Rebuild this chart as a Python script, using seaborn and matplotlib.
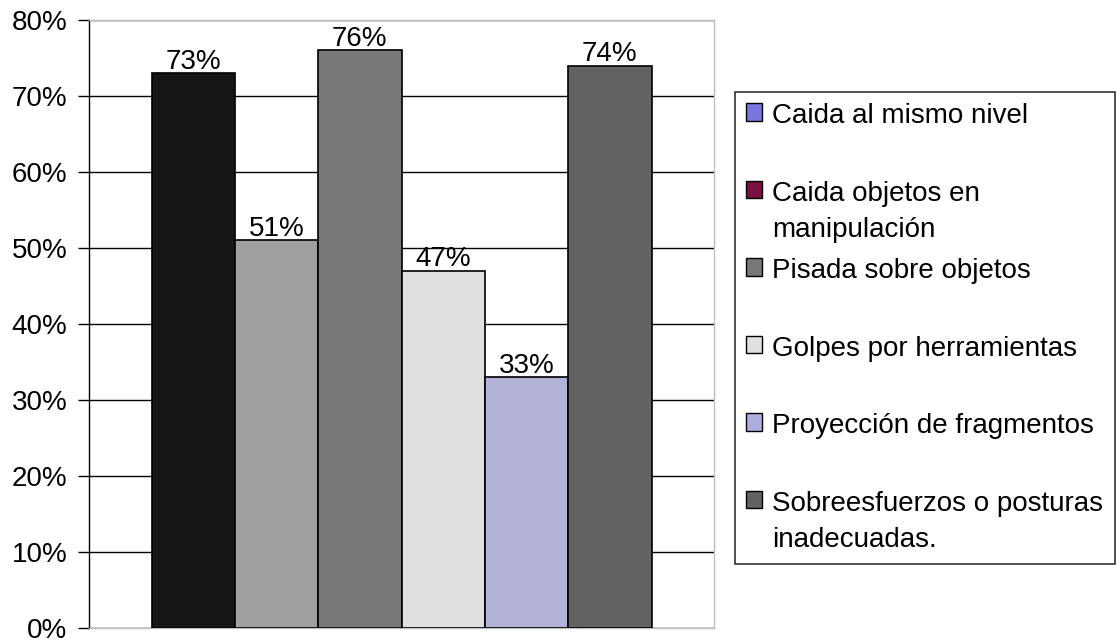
import matplotlib.pyplot as plt
import matplotlib.patches as mpatches
import pandas as pd
import seaborn as sns
from matplotlib.ticker import PercentFormatter

# Data
categories = [
    "Caida al mismo nivel",
    "Caida objetos en\nmanipulación",
    "Pisada sobre objetos",
    "Golpes por herramientas",
    "Proyección de fragmentos",
    "Sobreesfuerzos o posturas\ninadecuadas.",
]
values = [73, 51, 76, 47, 33, 74]
bar_colors = ["#161616", "#a0a0a0", "#787878", "#e0e0e0", "#adaddf", "#626262"]
legend_colors = ["#7777dd", "#7a1040", "#787878", "#e0e0e0", "#adaddf", "#626262"]

df = pd.DataFrame({"grupo": [""] * len(categories), "riesgo": categories, "valor": values})

sns.set_theme(style="white")
plt.rcParams["font.family"] = ["Liberation Sans", "DejaVu Sans"]
plt.rcParams["text.color"] = "black"
plt.rcParams["ytick.color"] = "black"
plt.rcParams["ytick.labelcolor"] = "black"

fig = plt.figure(figsize=(11.2, 6.43), dpi=100)
ax = fig.add_axes([0.0795, 0.0233, 0.558, 0.9456])

sns.barplot(
    data=df, x="grupo", y="valor", hue="riesgo", hue_order=categories,
    palette=bar_colors, width=0.8, gap=0, edgecolor="black", linewidth=1.2,
    legend=False, ax=ax, zorder=3,
)

for cont in ax.containers:
    ax.bar_label(cont, labels=[f"{int(v)}%" for v in cont.datavalues],
                 padding=-1, fontsize=20, color="black", zorder=4)

ax.set_ylim(0, 80)
ax.set_yticks(range(0, 81, 10))
ax.yaxis.set_major_formatter(PercentFormatter(decimals=0))
ax.set_xticks([])
ax.set_xlabel("")
ax.set_ylabel("")
ax.grid(axis="y", color="black", linewidth=1, zorder=0)
ax.set_axisbelow(True)
ax.tick_params(axis="y", left=True, length=8, width=1, color="black",
               labelsize=20, pad=7.5)
ax.spines["left"].set_color("black")
ax.spines["left"].set_linewidth(1)
for s in ["top", "right", "bottom"]:
    ax.spines[s].set_color("#c0c0c0")
    ax.spines[s].set_linewidth(1)

handles = [mpatches.Patch(facecolor=c, edgecolor="black", linewidth=1)
           for c in legend_colors]
# every entry takes two lines so the slots are evenly spaced, as in the original
labels = [c if "\n" in c else c + "\n " for c in categories]
leg = fig.legend(
    handles, labels, loc="upper left", bbox_to_anchor=(0.656, 0.857),
    borderaxespad=0, frameon=True, fancybox=False, edgecolor="black",
    fontsize=20, handlelength=0.6, handleheight=0.6, handletextpad=0.36,
    labelspacing=0.56, borderpad=0.4,
)
leg.get_frame().set_linewidth(1.2)
for t in leg.get_texts():
    t.set_linespacing(1.5)
# put each marker next to the first line of its label
for col in leg._legend_handle_box.get_children():
    for row in col.get_children():
        row.align = "top"

fig.savefig("out.png", dpi=100, facecolor="white")
